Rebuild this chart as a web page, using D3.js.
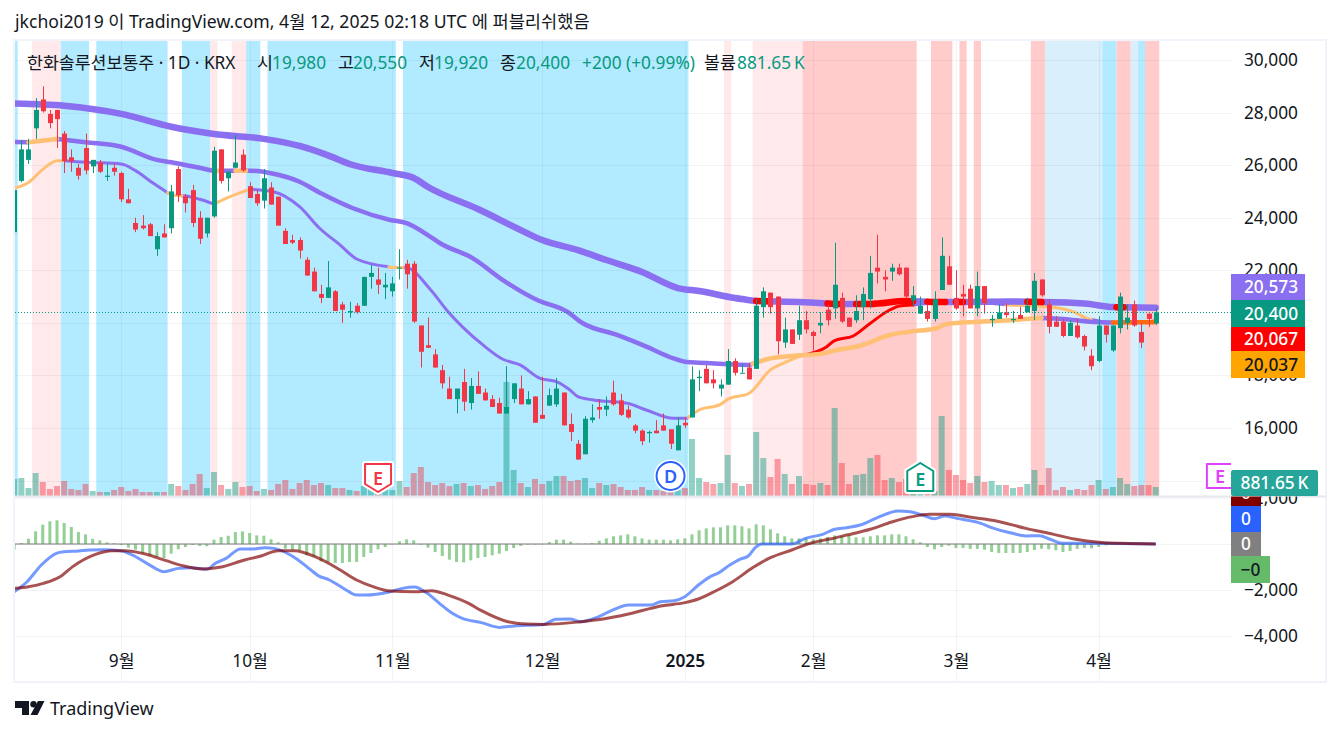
<!DOCTYPE html>
<html>
<head>
<meta charset="utf-8">
<script src="https://cdn.jsdelivr.net/npm/d3@7"></script>
<style>
  html, body { margin: 0; padding: 0; background: #fff; }
  text { font-family: "Noto Sans", "Noto Sans CJK KR", sans-serif; }
</style>
</head>
<body>
<div id="chart"></div>
<script>
// daily candles, one row of ten per line
const opens = [23450,25400,26200,27400,28500,27950,28100,27200,26300,25900,
  26650,25950,26100,25550,25900,25700,24700,23800,23700,23750,
  22800,23400,23600,25850,24800,25050,24000,23400,24050,26600,
  25500,25900,26400,25200,24900,24650,25150,24800,23500,23150,
  23150,22400,21950,21100,20950,21200,20700,20400,20650,20650,
  21750,21650,21350,21200,22100,22250,22250,19900,19150,18800,
  18200,17500,17100,17750,16950,17600,17350,17100,16950,16550,
  17100,17500,16900,17200,16500,16850,16900,17350,16150,15400,
  15000,16300,16800,16700,17350,17050,16700,16100,15900,15800,
  15900,16100,15950,15150,16200,16400,17900,18250,17850,17500,
  17650,18550,18100,18300,18250,20600,21150,21000,19250,19750,
  19550,20100,19650,19900,20500,20550,20950,20200,20100,20600,
  20900,22100,21750,21950,22100,22100,20850,20350,20450,20150,
  21250,22150,20950,21100,21300,20550,21400,20100,20150,20400,
  20100,20300,20400,20450,21650,20700,20050,20050,19500,19900,
  19500,18750,18550,19900,18950,19800,20000,20700,19650,20350,19980];
const highs = [25050,26950,27000,28550,29000,28100,28100,27300,26600,26050,
  27200,26200,26200,26050,26050,25750,25100,24000,24100,23800,
  23450,23750,25250,25950,24900,25250,24250,24000,26700,26600,
  25750,27150,26600,25350,25050,25850,25350,24800,23600,23350,
  23250,22500,22100,21450,22350,21250,20800,20800,20750,21750,
  22200,22100,21900,21750,22800,22400,22350,19900,20200,19000,
  18400,17950,17500,18250,17900,18150,17500,17250,17150,18350,
  17700,18000,17400,17200,17950,17500,17900,17350,16550,15550,
  16450,16900,17100,17200,17800,17300,16850,16150,15950,15900,
  16300,16550,15950,16400,16400,18350,18200,18400,18200,17850,
  19000,18650,18450,18450,20900,21350,21150,21000,20200,19750,
  20650,20450,19700,20400,20700,23050,21150,20200,21050,21350,
  22550,23350,22000,22250,22250,22100,21400,21000,20700,21200,
  23250,22550,22000,21450,21450,21950,21400,20300,20700,20750,
  20450,20600,20950,21900,21650,20900,20250,20150,20100,20150,
  19550,19000,20250,19900,19900,21150,20700,20850,20000,20350,20550];
const lows = [23450,25350,26050,27000,28000,27400,26650,25700,25750,25450,
  25650,25700,25700,25400,25600,24600,24550,23450,23550,23300,
  22550,23250,23400,24600,24200,23650,23000,23250,24000,25300,
  25000,25900,25750,24750,24450,24350,24500,23700,23000,23000,
  22450,21800,21200,20750,20950,20450,20000,20200,20350,20650,
  21300,21100,20900,21000,21650,21300,20000,18300,19050,18300,
  17500,17100,16550,16650,16700,17300,17050,16800,16550,16550,
  16950,16900,16900,16200,16350,16850,16800,16100,15500,14800,
  15000,16200,16350,16450,16850,16450,16350,15800,15350,15450,
  15800,15900,15200,15150,16000,16400,17400,17700,17500,17200,
  17650,18000,18100,17850,18250,20200,20350,18800,19050,19200,
  19350,19600,18950,19600,19900,20150,20000,19850,20000,20100,
  20550,21500,21200,21600,21800,20950,20650,20350,20050,20050,
  21250,21450,20500,20250,20550,20250,20350,19850,20150,20200,
  20000,20150,20400,20100,21000,19600,19850,19450,19500,19400,
  18950,18200,18500,19250,18900,19600,19750,19850,19050,19850,19920];
const closes = [25050,26600,26600,28100,28050,27600,27750,26150,26150,25600,
  25800,26200,25750,25600,25750,24700,24550,23550,23600,23300,
  23300,23250,25000,24850,24550,23800,23200,24000,26550,25400,
  25750,26100,25800,24750,24550,25500,24500,23700,23000,23050,
  22750,21800,21200,20950,21350,20450,20500,20450,20400,21750,
  21900,21450,21450,21500,22100,21850,20050,18900,19050,18300,
  17700,17100,17500,17000,17600,17300,17050,16800,16550,16800,
  17700,16900,17100,16200,16350,17250,17500,16100,15850,14800,
  16350,16400,16700,16850,16900,16500,16400,15900,15500,15850,
  15800,15900,15400,16100,16100,17850,17950,17700,17700,17650,
  18550,18100,18100,17850,20650,21200,20600,19300,19750,19200,
  20100,19750,19500,20000,20100,21450,20050,19850,20450,21100,
  21900,21950,21650,22100,21850,21000,21050,20650,20150,20900,
  22550,21450,20550,21000,20550,21400,20750,20150,20400,20300,
  20150,20150,20650,21600,21050,19850,19850,19500,20000,19450,
  19100,18350,19900,19550,19900,21000,20200,19900,19250,20150,20400];
const volumes = [1670,1760,780,2250,1370,690,980,1470,690,590,
  1180,490,390,390,590,880,490,690,390,390,
  390,390,1180,980,590,1180,2160,780,2350,1080,
  690,1370,880,980,490,690,590,1180,1570,690,
  1270,1570,1080,1270,1080,780,780,590,490,980,
  690,780,590,590,1470,880,2250,2840,1370,1080,
  1270,980,1180,1270,980,1080,690,980,1370,11170,
  2550,1270,880,1670,1180,1470,1960,1960,1470,1570,
  1760,780,1270,1080,1180,880,590,590,880,590,
  590,490,590,590,780,5590,1760,1370,1180,1270,
  4020,1270,980,1180,6270,3720,1860,3630,2160,1180,
  1960,1180,1080,1270,1080,8620,3230,1180,2060,2160,
  3720,4020,1570,1760,1370,1670,880,590,590,490,
  7840,2550,2060,1570,1270,1960,1370,1470,1080,1080,
  780,880,1180,2550,1080,2740,590,880,590,690,
  590,1080,1570,690,880,1760,1180,980,1080,1080,881.65];

// moving averages at these bars
const slowBars = [0,7,15,22,28,35,40,44,47,53,56,58,65,71,74,79,83,88,93,96,101,104,110,115,120,125,130,140,144,150,154,160];
const slowVals = [28345,28260,27950,27460,27185,27000,26730,26370,26045,25700,25510,25170,24330,23530,23150,22770,22390,21935,21325,21210,20945,20830,20790,20720,20720,20830,20790,20810,20790,20740,20600,20573];
const midBars = [0,2,6,10,15,20,22,28,33,36,40,43,47.5,52.7,55,58.3,59.7,64.3,68.5,73.3,77.5,79.7,84.5,88.6,92.4,94.3,96,99.4,103,106,109.7,113.4,115.3,118.5,122.7,125.5,129.3,130.7,135.3,141.4,143.8,147,150.8,154,158,160];
const midVals = [26880,26870,26995,26870,26700,26200,26110,25780,25790,25690,25370,24930,24360,23915,23790,23280,23030,22455,21630,20870,20425,19985,19540,19095,18650,18510,18485,18435,18400,18650,18755,18840,18970,19120,19540,19665,19795,19960,20045,20135,20185,20150,20045,20010,20020,20037];
const fastBars = [0,2,4,6,7,10,15,17,19.5,22,24,26,28,30,33,36.3,40,42.8,45.7,48,52.7,55,58.3,61,62.9,65.7,68.5,70.9,73.7,76,77.9,79,81.2,85.9,88.6,92.4,94.3,96,99,100,103,106,108.3,110,113.9,115,117.6,120,122.7,124.1,125.8,133,139.5,145,148.4,150.8,153.8,158,160];
const fastVals = [25120,25335,25840,26170,26170,26110,26045,25790,25310,24865,24825,24700,24520,24775,25080,24990,24420,23600,22960,22430,22120,22100,21280,20365,19830,19160,18615,18400,17890,17765,17445,17195,17065,16940,16685,16370,16370,16685,16900,17090,17320,18210,18525,18715,19095,19325,19500,19985,20490,20645,20680,20800,20680,20615,20425,20135,20010,20020,20067];

// colour changes along the averages, as bar ranges
const slowRed = [[104,105.5],[114,116],[118,126],[128,130.5],[132,133],[142,144],[154.5,155.5]];
const midOrange = [[2,6],[28,29],[31,32.5],[103.5,144]];
const midDeepOrange = [[154,160]];
const fastOrange = [[0,7],[21.5,23.5],[28,33],[52.5,54.5],[94.5,110.5],[139,151]];
const fastRed = [[110.5,126],[154,160]];

// background shading per bar range
const cyanBands = [[0,0],[7,10],[12,21],[24,27],[33,34],[36,53],[55,94],[153,154],[158,158]];
const palePinkBands = [[3,6],[28,28],[31,32],[100,100],[104,110]];
const pinkBands = [[111,126],[129,131],[133,133],[135,135],[143,144],[155,156],[159,160]];
const paleBlueBands = [[145,152],[157,157]];

// MACD pane
const histogram = [-245,45,230,550,840,985,1030,915,740,520,
  420,230,160,75,30,-45,-160,-245,-390,-495,
  -565,-610,-420,-230,-130,-45,-85,-100,190,305,
  360,520,550,480,375,360,205,75,-205,-245,
  -275,-495,-535,-755,-785,-825,-825,-785,-785,-565,
  -390,-230,-130,-15,115,205,160,-30,-160,-350,
  -520,-680,-785,-800,-710,-610,-565,-495,-420,-305,
  -175,-85,-30,-30,-15,85,190,190,100,15,
  15,45,145,245,335,375,420,335,245,190,
  190,190,160,205,245,420,595,680,725,725,
  810,810,770,680,855,810,640,465,335,245,
  245,245,205,245,305,375,335,375,290,290,
  335,375,375,420,420,335,205,75,-130,-230,
  -130,-75,-175,-175,-215,-215,-245,-350,-390,-390,
  -390,-390,-350,-260,-205,-230,-275,-350,-305,-215,
  -175,-190,-130,-60,-30,-15,-15,-5,-5,0,0];
const macdBars = [0,1.8,3.8,5.9,7,9,10.5,12.5,14.9,16.6,19,21,23,24.8,27,28.2,29.7,31.7,33.5,35.2,36.4,39.6,41.3,42.8,44,46.3,48,49.2,52.7,54.4,56.1,57.9,59.6,61.4,62.8,65.5,68,70.1,74.2,75.9,77.9,79.4,81.7,84.1,86.1,89.2,90.6,92.5,94,95.9,97.4,98.8,100.3,101.7,102.9,103.9,104.8,109,110.9,113.3,115,116.7,118.6,121,123.9,125.6,127.3,129,130.4,132.1,135.5,137,139.9,141.8,143.7,145.2,146.9,150.5,160];
const macdVals = [-2075,-1640,-915,-405,-335,-305,-260,-245,-290,-480,-915,-1205,-1060,-1030,-1100,-840,-625,-215,-215,-160,-190,-650,-1060,-1405,-1535,-1955,-2220,-2220,-2075,-1930,-1870,-2145,-2580,-3015,-3235,-3420,-3625,-3565,-3495,-3275,-3260,-3380,-3190,-2840,-2655,-2655,-2510,-2465,-2290,-1785,-1450,-1245,-915,-665,-520,-145,0,0,245,420,640,710,825,1145,1435,1405,1260,1100,1220,1115,900,710,465,350,360,205,30,30,0];
const signalBars = [0,2,4.1,6.7,8.2,11.4,13.7,15.5,18.4,21.3,23.6,26.5,28.8,32.3,34.6,37,39.3,42.5,45.7,48,50.3,52.7,56.1,58.5,60.8,63.7,65.5,69.2,71.9,74.2,79.4,82.3,86.1,89.2,90.6,94,95.9,98.3,100.7,103.6,106,109,111.9,114.3,116.7,120,123,125.9,128.3,131.2,134.1,137.5,141.8,145.7,148.6,152.4,155.3,160];
const signalVals = [-1930,-1855,-1710,-1365,-985,-450,-290,-290,-435,-725,-940,-1085,-1015,-695,-520,-290,-290,-595,-1130,-1565,-1855,-2045,-2075,-2030,-2220,-2580,-2900,-3380,-3480,-3495,-3380,-3275,-3045,-2800,-2695,-2550,-2390,-2045,-1640,-1015,-595,-260,60,215,390,640,955,1190,1290,1290,1160,1015,680,420,215,70,30,0];

// ticks and labels
const priceGrid = [30000,28000,26000,24000,22000,20000,18000,16000,14000];
const priceLabels = [30000,28000,26000,24000,22000,18000,16000];
const macdGrid = [2000,0,-2000,-4000];
const macdLabels = [2000,-2000,-4000];
const monthBars = [15,33,53,74,94,112,132,152];
const monthLabels = ["9월","10월","11월","12월","2025","2월","3월","4월"];
const lastPrice = 20400;

const svgWidth = 1341;
const svgHeight = 735;
const plot = {left: 15, right: 1231, top: 41, mid: 496.5, bottom: 682, edge: 1326};
const upColor = "#089981";
const downColor = "#f23645";
const purple = "#8a6ff0";
const font = "17.3px";

const svg = d3.select("#chart").append("svg")
  .attr("width", svgWidth).attr("height", svgHeight)
  .style("display", "block");

// scales
const x = d3.scaleLinear().domain([0, 160]).range([14.2, 1155.7]);
const y = d3.scaleLinear().domain([16000, 30000]).range([428, 60]);
const yVolume = d3.scaleLinear().domain([0, 881.65]).range([496, 487]);
const yMacd = d3.scaleLinear().domain([-4000, 2000]).range([636, 498]);

svg.append("clipPath").attr("id", "top-clip").append("rect")
  .attr("x", plot.left).attr("y", plot.top)
  .attr("width", plot.right - plot.left).attr("height", plot.mid - plot.top);
svg.append("clipPath").attr("id", "bottom-clip").append("rect")
  .attr("x", plot.left).attr("y", plot.mid)
  .attr("width", plot.right - plot.left).attr("height", plot.bottom - plot.mid);
svg.append("clipPath").attr("id", "axis-clip").append("rect")
  .attr("x", plot.right).attr("y", plot.mid)
  .attr("width", plot.edge - plot.right).attr("height", plot.bottom - plot.mid);

const topPane = svg.append("g").attr("clip-path", "url(#top-clip)");
const bottomPane = svg.append("g").attr("clip-path", "url(#bottom-clip)");

// shaded bands
function addBands(ranges, color) {
  topPane.append("g").selectAll("rect").data(ranges).join("rect")
    .attr("x", d => x(d[0] - 0.5))
    .attr("width", d => x(d[1] + 0.5) - x(d[0] - 0.5))
    .attr("y", plot.top)
    .attr("height", plot.mid - plot.top)
    .attr("fill", color);
}
addBands(cyanBands, "#b2ebff");
addBands(palePinkBands, "#ffe9eb");
addBands(pinkBands, "#ffcccb");
addBands(paleBlueBands, "#d9effc");

// grid
const gridColor = "rgba(42,46,57,0.06)";
topPane.append("g").selectAll("line").data(priceGrid).join("line")
  .attr("x1", plot.left).attr("x2", plot.right)
  .attr("y1", d => Math.round(y(d)) + 0.5).attr("y2", d => Math.round(y(d)) + 0.5)
  .attr("stroke", gridColor);
bottomPane.append("g").selectAll("line").data(macdGrid).join("line")
  .attr("x1", plot.left).attr("x2", plot.right)
  .attr("y1", d => Math.round(yMacd(d)) + 0.5).attr("y2", d => Math.round(yMacd(d)) + 0.5)
  .attr("stroke", gridColor);
[topPane, bottomPane].forEach(pane => {
  pane.append("g").selectAll("line").data(monthBars).join("line")
    .attr("x1", d => Math.round(x(d)) + 0.5).attr("x2", d => Math.round(x(d)) + 0.5)
    .attr("y1", plot.top).attr("y2", plot.bottom)
    .attr("stroke", gridColor);
});

// volume bars
topPane.append("g").selectAll("rect").data(volumes).join("rect")
  .attr("x", (d, i) => x(i) - 3)
  .attr("width", 6)
  .attr("y", d => yVolume(d))
  .attr("height", d => yVolume(0) - yVolume(d))
  .attr("fill", (d, i) => closes[i] >= opens[i] ? upColor : downColor)
  .attr("fill-opacity", 0.45);

// moving averages
function pieceOf(bars, vals, a, b) {
  const at = d3.scaleLinear().domain(bars).range(vals);
  const inside = bars.filter(d => d > a && d < b);
  return [a].concat(inside, [b]).map(d => [d, at(d)]);
}
const priceLine = d3.line().x(d => x(d[0])).y(d => y(d[1])).curve(d3.curveMonotoneX);

// the purple runs are whatever the coloured ranges leave open
function gaps(overlays, first, last) {
  const taken = overlays.flatMap(o => o.ranges).sort((p, q) => p[0] - q[0]);
  const open = [];
  let from = first;
  taken.forEach(r => {
    if (r[0] > from) open.push([from, r[0]]);
    from = Math.max(from, r[1]);
  });
  if (from < last) open.push([from, last]);
  return open;
}

function addAverage(bars, vals, width, overlays) {
  const g = topPane.append("g").attr("fill", "none")
    .attr("stroke-linecap", "round").attr("stroke-linejoin", "round");
  const runs = [{ranges: gaps(overlays, 0, 160), color: purple}].concat(overlays);
  runs.forEach(o => {
    g.append("g").selectAll("path").data(o.ranges).join("path")
      .attr("d", d => priceLine(pieceOf(bars, vals, d[0], d[1])))
      .attr("stroke", o.color).attr("stroke-width", width);
  });
}
const softOrange = "#ffc074";
addAverage(fastBars, fastVals, 3, [
  {ranges: fastOrange, color: softOrange},
  {ranges: fastRed, color: "#ff0000"}
]);
addAverage(midBars, midVals, 4.5, [
  {ranges: midOrange, color: softOrange},
  {ranges: midDeepOrange, color: "#ff6a10"}
]);
addAverage(slowBars, slowVals, 6.5, [{ranges: slowRed, color: "#ff0000"}]);

// candles
const candles = topPane.append("g").selectAll("g").data(d3.range(opens.length)).join("g");
candles.append("line")
  .attr("x1", i => Math.round(x(i)) + 0.5).attr("x2", i => Math.round(x(i)) + 0.5)
  .attr("y1", i => y(highs[i])).attr("y2", i => y(lows[i]))
  .attr("stroke", i => closes[i] >= opens[i] ? upColor : downColor);
candles.append("rect")
  .attr("x", i => Math.round(x(i)) - 2)
  .attr("width", 5)
  .attr("y", i => y(Math.max(opens[i], closes[i])))
  .attr("height", i => Math.max(1, Math.abs(y(opens[i]) - y(closes[i]))))
  .attr("fill", i => closes[i] >= opens[i] ? upColor : downColor);

// last price dotted line
svg.append("line")
  .attr("x1", plot.left).attr("x2", plot.right)
  .attr("y1", Math.round(y(lastPrice)) + 0.5).attr("y2", Math.round(y(lastPrice)) + 0.5)
  .attr("stroke", upColor).attr("stroke-dasharray", "1 2");

// event flags
function addFlag(bar, path, color, letter, textY) {
  const g = topPane.append("g").attr("transform", `translate(${x(bar)},0)`);
  g.append("path").attr("d", path).attr("fill", "#fff").attr("stroke", "#fff")
    .attr("stroke-width", 6).attr("stroke-linejoin", "round");
  g.append("path").attr("d", path).attr("fill", "#fff").attr("stroke", color)
    .attr("stroke-width", 2).attr("stroke-linejoin", "round");
  g.append("text").attr("y", textY).attr("text-anchor", "middle")
    .attr("font-size", "18px").attr("font-weight", 600).attr("fill", color).text(letter);
}
addFlag(51, "M-13,464 H13 V484 L0,492 L-13,484 Z", downColor, "E", 485);
addFlag(127, "M0,463 L13,471 V491 H-13 V471 Z", upColor, "E", 486);
addFlag(169, "M-13,464 H13 V488 H-13 Z", "#e040fb", "E", 483);
const dividend = topPane.append("g").attr("transform", `translate(${x(92)},476)`);
dividend.append("circle").attr("r", 16.5).attr("fill", "#fff");
dividend.append("circle").attr("r", 14).attr("fill", "#fff")
  .attr("stroke", "#2962ff").attr("stroke-width", 2);
dividend.append("text").attr("y", 6.5).attr("text-anchor", "middle")
  .attr("font-size", "18px").attr("font-weight", 600).attr("fill", "#2962ff").text("D");

// MACD pane
bottomPane.append("g").selectAll("rect").data(histogram).join("rect")
  .attr("x", (d, i) => x(i) - 1.5)
  .attr("width", 3)
  .attr("y", d => Math.min(yMacd(d), yMacd(0)))
  .attr("height", d => Math.abs(yMacd(d) - yMacd(0)))
  .attr("fill", "#66bb6a").attr("fill-opacity", 0.7);
bottomPane.append("line")
  .attr("x1", x(0)).attr("x2", x(160))
  .attr("y1", yMacd(0)).attr("y2", yMacd(0))
  .attr("stroke", "#808080").attr("stroke-opacity", 0.7).attr("stroke-width", 1.5);

const macdLine = d3.line().x(d => x(d[0])).y(d => yMacd(d[1])).curve(d3.curveMonotoneX);
bottomPane.append("path")
  .attr("d", macdLine(macdBars.map((d, i) => [d, macdVals[i]])))
  .attr("fill", "none").attr("stroke", "#2962ff").attr("stroke-opacity", 0.65)
  .attr("stroke-width", 3).attr("stroke-linejoin", "round");
bottomPane.append("path")
  .attr("d", macdLine(signalBars.map((d, i) => [d, signalVals[i]])))
  .attr("fill", "none").attr("stroke", "#800000").attr("stroke-opacity", 0.68)
  .attr("stroke-width", 3).attr("stroke-linejoin", "round");

// frame
const frameColor = "#f0f3fa";
svg.append("rect")
  .attr("x", plot.left - 1).attr("y", plot.top - 1)
  .attr("width", plot.edge - plot.left + 1).attr("height", plot.bottom - plot.top + 1)
  .attr("fill", "none").attr("stroke", frameColor).attr("stroke-width", 2);
svg.append("line")
  .attr("x1", plot.left).attr("x2", plot.edge)
  .attr("y1", plot.mid).attr("y2", plot.mid)
  .attr("stroke", "#e6e8ee").attr("stroke-width", 2);

// axes
function styleAxis(g) {
  g.select(".domain").remove();
  g.selectAll(".tick line").remove();
  g.selectAll("text").attr("font-size", font).attr("fill", "#131722")
    .style("font-family", '"Noto Sans", "Noto Sans CJK KR", sans-serif');
}
svg.append("g")
  .attr("transform", "translate(1298,0)")
  .call(d3.axisLeft(y).tickValues(priceLabels).tickFormat(d3.format(",")).tickSize(0).tickPadding(0))
  .call(styleAxis);
svg.append("g")
  .attr("clip-path", "url(#axis-clip)")
  .append("g")
  .attr("transform", "translate(1298,0)")
  .call(d3.axisLeft(yMacd).tickValues(macdLabels)
    .tickFormat(d => d3.format(",")(d).replace("-", "\u2212")).tickSize(0).tickPadding(0))
  .call(styleAxis);
svg.append("g")
  .attr("transform", "translate(0,661)")
  .call(d3.axisBottom(x).tickValues(monthBars).tickFormat((d, i) => monthLabels[i]).tickSize(0).tickPadding(0))
  .call(styleAxis)
  .selectAll("text")
  .attr("dy", "0.35em")
  .attr("font-weight", (d, i) => monthLabels[i] === "2025" ? 600 : 400);

// price tags on the axis
const tagTexts = ["20,573", "20,400", "20,067", "20,037"];
const tagColors = [purple, upColor, "#ff0000", "#ffa500"];
const tagInk = ["#fff", "#fff", "#fff", "#131722"];
const tagTops = [274, 300, 327, 351];
const tagBottoms = [300, 327, 351, 378];
tagTexts.forEach((t, i) => {
  svg.append("rect").attr("x", plot.right).attr("y", tagTops[i])
    .attr("width", 74).attr("height", tagBottoms[i] - tagTops[i]).attr("fill", tagColors[i]);
  svg.append("text").attr("x", 1271).attr("y", (tagTops[i] + tagBottoms[i]) / 2 + 6)
    .attr("text-anchor", "middle").attr("font-size", font).attr("font-weight", 500)
    .attr("fill", tagInk[i]).text(t);
});
svg.append("rect").attr("x", plot.right).attr("y", 470).attr("width", 87).attr("height", 26)
  .attr("rx", 2).attr("fill", "#26a69a");
svg.append("text").attr("x", 1274.5).attr("y", 489).attr("text-anchor", "middle")
  .attr("font-size", font).attr("font-weight", 500).attr("fill", "#fff").text("881.65\u2009K");

const macdTagTexts = ["0", "0", "\u22120"];
const macdTagColors = ["#2962ff", "#808080", "#66bb6a"];
const macdTagInk = ["#fff", "#fff", "#131722"];
const macdTagTops = [506, 532, 556];
const macdTagBottoms = [532, 556, 583];
const macdTagWidths = [30, 30, 39];
const darkTag = svg.append("g").attr("clip-path", "url(#axis-clip)");
darkTag.append("rect").attr("x", plot.right).attr("y", 481).attr("width", 30).attr("height", 25)
  .attr("fill", "#800000");
darkTag.append("text").attr("x", 1246).attr("y", 499).attr("text-anchor", "middle")
  .attr("font-size", font).attr("fill", "#fff").text("0");
macdTagTexts.forEach((t, i) => {
  svg.append("rect").attr("x", plot.right).attr("y", macdTagTops[i])
    .attr("width", macdTagWidths[i]).attr("height", macdTagBottoms[i] - macdTagTops[i])
    .attr("fill", macdTagColors[i]);
  svg.append("text").attr("x", plot.right + macdTagWidths[i] / 2)
    .attr("y", (macdTagTops[i] + macdTagBottoms[i]) / 2 + 6)
    .attr("text-anchor", "middle").attr("font-size", font).attr("font-weight", 500)
    .attr("fill", macdTagInk[i]).text(t);
});

// header and legend
svg.append("text").attr("x", 15).attr("y", 28)
  .attr("font-size", "17.6px").attr("fill", "#131722")
  .text("jkchoi2019 이 TradingView.com, 4월 12, 2025 02:18 UTC 에 퍼블리쉬했음");

const legendTexts = ["한화솔루션보통주 · 1D · KRX", "시", "19,980", "고", "20,550", "저", "19,920", "종", "20,400", "+200 (+0.99%)", "볼륨", "881.65\u2009K"];
const legendStarts = [27, 257, 272, 338, 353, 419, 434, 500, 516, 582, 704, 737];
const legendInk = ["#131722", "#131722", upColor, "#131722", upColor, "#131722", upColor, "#131722", upColor, upColor, "#131722", upColor];
svg.append("g").selectAll("text").data(legendTexts).join("text")
  .attr("x", (d, i) => legendStarts[i])
  .attr("y", 69)
  .attr("font-size", font)
  .attr("fill", (d, i) => legendInk[i])
  .text(d => d);

// logo
const logo = svg.append("g").attr("fill", "#131722");
logo.append("path").attr("d", "M15,701 H29 V715 H22 V708 H15 Z");
logo.append("circle").attr("cx", 33.5).attr("cy", 704.2).attr("r", 3.2);
logo.append("path").attr("d", "M38,701 H44.5 L37.5,715 H30.5 Z");
svg.append("text").attr("x", 50).attr("y", 715)
  .attr("font-size", "18px").attr("fill", "#131722").text("TradingView");
</script>
</body>
</html>
